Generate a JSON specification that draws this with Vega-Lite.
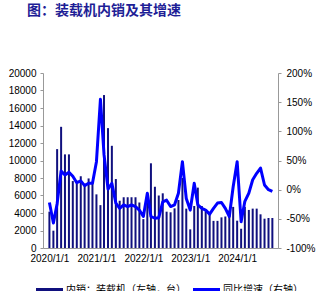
{
  "$schema": "https://vega.github.io/schema/vega-lite/v6.json",
  "width": 235,
  "height": 175,
  "autosize": {"type": "none"},
  "padding": {"left": 43, "top": 73, "right": 38, "bottom": 43},
  "title": {
    "text": "图：装载机内销及其增速",
    "anchor": "start",
    "frame": "group",
    "offset": 50,
    "dx": -16,
    "font": "Noto Sans CJK SC",
    "fontSize": 14,
    "fontWeight": "bold",
    "color": "#1e1e96"
  },
  "data": {
    "values": [
      {"date": "2020-01-01", "sales": 4150, "yoy": -0.22},
      {"date": "2020-02-01", "sales": 1980, "yoy": -0.57},
      {"date": "2020-03-01", "sales": 11300, "yoy": -0.24},
      {"date": "2020-04-01", "sales": 13850, "yoy": 0.32},
      {"date": "2020-05-01", "sales": 10700, "yoy": 0.25},
      {"date": "2020-06-01", "sales": 10700, "yoy": 0.30},
      {"date": "2020-07-01", "sales": 7650, "yoy": 0.23},
      {"date": "2020-08-01", "sales": 7400, "yoy": 0.12},
      {"date": "2020-09-01", "sales": 8200, "yoy": 0.15},
      {"date": "2020-10-01", "sales": 7350, "yoy": 0.07},
      {"date": "2020-11-01", "sales": 7950, "yoy": 0.11},
      {"date": "2020-12-01", "sales": 7450, "yoy": 0.11},
      {"date": "2021-01-01", "sales": 6130, "yoy": 0.48},
      {"date": "2021-02-01", "sales": 4900, "yoy": 1.55},
      {"date": "2021-03-01", "sales": 17480, "yoy": 0.60},
      {"date": "2021-04-01", "sales": 13700, "yoy": 0.01},
      {"date": "2021-05-01", "sales": 11680, "yoy": 0.11},
      {"date": "2021-06-01", "sales": 7880, "yoy": -0.23},
      {"date": "2021-07-01", "sales": 5400, "yoy": -0.32},
      {"date": "2021-08-01", "sales": 5800, "yoy": -0.26},
      {"date": "2021-09-01", "sales": 5800, "yoy": -0.29},
      {"date": "2021-10-01", "sales": 5800, "yoy": -0.26},
      {"date": "2021-11-01", "sales": 5800, "yoy": -0.29},
      {"date": "2021-12-01", "sales": 5200, "yoy": -0.35},
      {"date": "2022-01-01", "sales": 3300, "yoy": -0.46},
      {"date": "2022-02-01", "sales": 6000, "yoy": -0.06},
      {"date": "2022-03-01", "sales": 9680, "yoy": -0.46},
      {"date": "2022-04-01", "sales": 7000, "yoy": -0.49},
      {"date": "2022-05-01", "sales": 6000, "yoy": -0.48},
      {"date": "2022-06-01", "sales": 6250, "yoy": -0.21},
      {"date": "2022-07-01", "sales": 4150, "yoy": -0.18},
      {"date": "2022-08-01", "sales": 4080, "yoy": -0.29},
      {"date": "2022-09-01", "sales": 4530, "yoy": -0.26},
      {"date": "2022-10-01", "sales": 5490, "yoy": -0.06},
      {"date": "2022-11-01", "sales": 8000, "yoy": 0.48},
      {"date": "2022-12-01", "sales": 4500, "yoy": -0.15},
      {"date": "2023-01-01", "sales": 2130, "yoy": -0.35},
      {"date": "2023-02-01", "sales": 4800, "yoy": 0.11},
      {"date": "2023-03-01", "sales": 6900, "yoy": -0.26},
      {"date": "2023-04-01", "sales": 4800, "yoy": -0.32},
      {"date": "2023-05-01", "sales": 4200, "yoy": -0.35},
      {"date": "2023-06-01", "sales": 3900, "yoy": -0.42},
      {"date": "2023-07-01", "sales": 3100, "yoy": -0.32},
      {"date": "2023-08-01", "sales": 3100, "yoy": -0.23},
      {"date": "2023-09-01", "sales": 3500, "yoy": -0.22},
      {"date": "2023-10-01", "sales": 3600, "yoy": -0.32},
      {"date": "2023-11-01", "sales": 4300, "yoy": -0.46},
      {"date": "2023-12-01", "sales": 4700, "yoy": 0.05},
      {"date": "2024-01-01", "sales": 3120, "yoy": 0.48},
      {"date": "2024-02-01", "sales": 2200, "yoy": -0.55},
      {"date": "2024-03-01", "sales": 4700, "yoy": -0.20},
      {"date": "2024-04-01", "sales": 4350, "yoy": -0.06},
      {"date": "2024-05-01", "sales": 4500, "yoy": 0.17},
      {"date": "2024-06-01", "sales": 4500, "yoy": 0.28},
      {"date": "2024-07-01", "sales": 3850, "yoy": 0.37},
      {"date": "2024-08-01", "sales": 3350, "yoy": 0.08},
      {"date": "2024-09-01", "sales": 3430, "yoy": 0.00},
      {"date": "2024-10-01", "sales": 3430, "yoy": -0.03}
    ]
  },
  "encoding": {
    "x": {
      "field": "date",
      "type": "temporal",
      "scale": {
        "type": "utc",
        "domain": [
          {"year": 2019, "month": 12, "date": 21, "utc": true},
          {"year": 2024, "month": 10, "date": 6, "utc": true}
        ]
      },
      "axis": {
        "title": null,
        "values": [
          {"year": 2020, "month": 1, "date": 1, "utc": true},
          {"year": 2021, "month": 1, "date": 1, "utc": true},
          {"year": 2022, "month": 1, "date": 1, "utc": true},
          {"year": 2023, "month": 1, "date": 1, "utc": true},
          {"year": 2024, "month": 1, "date": 1, "utc": true}
        ],
        "format": "%Y/%-m/%-d",
        "ticks": false,
        "labelPadding": 5,
        "labelFlush": false,
        "labelOverlap": false
      }
    }
  },
  "layer": [
    {
      "mark": {"type": "bar", "size": 2},
      "encoding": {
        "y": {
          "field": "sales",
          "type": "quantitative",
          "scale": {"domain": [0, 20000], "nice": false},
          "axis": {
            "title": null,
            "orient": "left",
            "values": [0, 2000, 4000, 6000, 8000, 10000, 12000, 14000, 16000, 18000, 20000],
            "format": "d",
            "tickSize": 3,
            "labelPadding": 4
          }
        },
        "color": {
          "datum": "内销：装载机（左轴，台）",
          "scale": {
            "domain": ["内销：装载机（左轴，台）", "同比增速（右轴）"],
            "range": ["#10107e", "#0000ff"]
          },
          "legend": {
            "orient": "none",
            "legendX": -7,
            "legendY": 203,
            "direction": "horizontal",
            "title": null,
            "symbolType": "M-1,-0.06H1V0.06H-1Z",
            "symbolSize": 625,
            "symbolStrokeWidth": 2,
            "labelFontSize": 10,
            "labelFont": "Noto Sans CJK SC",
            "labelColor": "#000",
            "columnPadding": 4,
            "labelOffset": 3
          }
        }
      }
    },
    {
      "mark": {"type": "line", "strokeWidth": 3, "strokeJoin": "round"},
      "encoding": {
        "y": {
          "field": "yoy",
          "type": "quantitative",
          "scale": {"domain": [-1, 2], "nice": false},
          "axis": {
            "title": null,
            "orient": "right",
            "values": [-1, -0.5, 0, 0.5, 1, 1.5, 2],
            "format": ".0%",
            "labelExpr": "replace(datum.label, '−', '-')",
            "tickSize": 3,
            "labelPadding": 5
          }
        },
        "color": {"datum": "同比增速（右轴）"}
      }
    }
  ],
  "resolve": {"scale": {"y": "independent"}},
  "config": {
    "view": {"stroke": null},
    "axis": {
      "grid": false,
      "labelFont": "Liberation Sans",
      "labelFontSize": 10,
      "labelColor": "#000",
      "domainColor": "#999",
      "tickColor": "#999"
    }
  }
}
